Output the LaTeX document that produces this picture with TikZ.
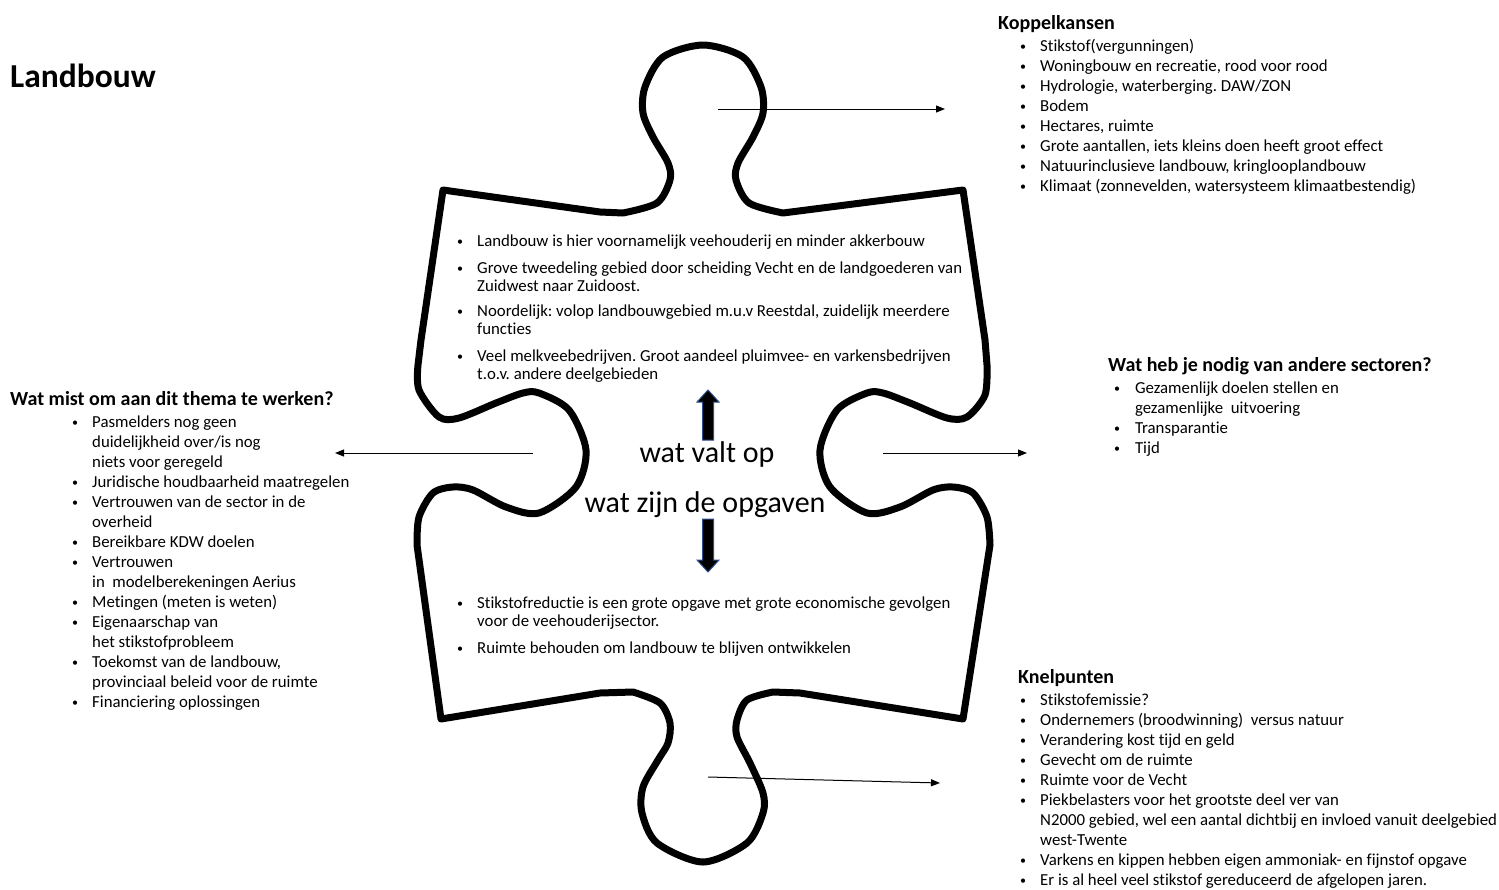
\documentclass[tikz,border=0pt]{standalone}
\usepackage{fontspec}
\setmainfont{Carlito}[Ligatures=NoCommon]
\usetikzlibrary{arrows.meta}
\frenchspacing

\definecolor{arrowblue}{HTML}{2F4F8F}
\newcommand{\bul}[1][20pt]{\makebox[#1][l]{\raisebox{1pt}{\fontsize{12}{12}\selectfont\textbullet}}}
\newcommand{\ind}[1][20pt]{\hspace*{#1}}

\begin{document}
\begin{tikzpicture}[x=1pt,y=-1pt,
    every node/.style={inner sep=0pt},
    txt/.style={anchor=base west,align=left,font=\fontsize{16.8}{20}\selectfont},
    ptxt/.style={anchor=base west,align=left,font=\fontsize{16.8}{18}\selectfont},
    head/.style={anchor=base west,font=\fontsize{20}{22}\selectfont\bfseries},
    link/.style={-{Triangle[length=9pt,width=7pt]},line width=1pt},
    piece/.style={line width=7pt,line join=round},
    block/.style={fill=black,draw=arrowblue,line width=1pt}]
\useasboundingbox (0,0) rectangle (1499,889);

% puzzle piece
\draw[piece] (443,190) -- (600,212)
  -- plot[smooth] coordinates {(623,213) (657,203) (670,180) (668,163) (653,137) (643,113) (645,87) (663,57) (703,45) (743,57) (761,87) (763,113) (753,137) (738,163) (736,180) (749,203) (783,213)}
  -- (963,190) -- (985,340)
  -- plot[smooth] coordinates {(987,365) (985,395) (967,417) (947,418) (910,403) (883,393) (867,393) (837,410) (820,450) (830,487) (867,513) (900,507) (933,490) (953,487) (973,493) (987,517) (990,545)}
  -- (963,719) -- (800,693)
  -- plot[smooth] coordinates {(773,692) (747,700) (737,720) (737,737) (750,763) (763,793) (763,813) (747,843) (703,862) (657,843) (642,813) (643,787) (658,760) (668,743) (670,723) (660,703) (633,692)}
  -- (600,693) -- (441,719) -- (417,545)
  -- plot[smooth] coordinates {(417,545) (419,517) (433,493) (453,487) (473,490) (506,507) (539,513) (576,487) (586,450) (569,410) (539,393) (523,393) (496,403) (459,418) (439,417) (419,390) (418,365)}
  -- (421,340) -- cycle;

\node[anchor=base west,font=\fontsize{33.5}{36}\selectfont\bfseries] (title) at (10,87) {Landbouw};

% text inside the piece (base = last line)
\node[ptxt] (valtop) at (457,379) {\bul Landbouw is hier voornamelijk veehouderij en minder akkerbouw\\[9pt]
  \bul Grove tweedeling gebied door scheiding Vecht en de landgoederen van\\ \ind Zuidwest naar Zuidoost.\\[7pt]
  \bul Noordelijk: volop landbouwgebied m.u.v Reestdal, zuidelijk meerdere\\ \ind functies\\[9pt]
  \bul Veel melkveebedrijven. Groot aandeel pluimvee- en varkensbedrijven\\ \ind t.o.v. andere deelgebieden};
\node[ptxt] (opgaven) at (457,653) {\bul Stikstofreductie is een grote opgave met grote economische gevolgen\\ \ind voor de veehouderijsector.\\[9pt]
  \bul Ruimte behouden om landbouw te blijven ontwikkelen};

\node[anchor=base,font=\fontsize{30}{34}\selectfont] (vraag1) at (707,462) {wat valt op};
\node[anchor=base,font=\fontsize{30}{34}\selectfont] (vraag2) at (705,512) {wat zijn de opgaven};
\coordinate (upTip) at (708,390);
\coordinate (downTip) at (708,572);
\filldraw[block] (upTip) -- ++(11,12) -- ++(-5.5,0) -- ++(0,38) -- ++(-11,0) -- ++(0,-38) -- ++(-5.5,0) -- cycle;
\filldraw[block] (downTip) -- ++(11,-12) -- ++(-5.5,0) -- ++(0,-41) -- ++(-11,0) -- ++(0,41) -- ++(-5.5,0) -- cycle;

% the four corners
\node[head] (koppelHead) at (998,29) {Koppelkansen};
\node[txt] (koppel) at (1020,191) {\bul Stikstof(vergunningen)\\ \bul Woningbouw en recreatie, rood voor rood\\
  \bul Hydrologie, waterberging. DAW/ZON\\ \bul Bodem\\ \bul Hectares, ruimte\\
  \bul Grote aantallen, iets kleins doen heeft groot effect\\ \bul Natuurinclusieve landbouw, kringlooplandbouw\\
  \bul Klimaat (zonnevelden, watersysteem klimaatbestendig)};

\node[head] (nodigHead) at (1108,371) {Wat heb je nodig van andere sectoren?};
\node[txt] (nodig) at (1114,453) {\bul[17pt] Gezamenlijk doelen stellen en\\ \ind[17pt] gezamenlijke\ \ uitvoering\\
  \bul[17pt] Transparantie\\ \bul[17pt] Tijd};

\node[head] (mistHead) at (10,405) {Wat mist om aan dit thema te werken?};
\node[txt] (mist) at (72,707) {\bul Pasmelders nog geen\\ \ind duidelijkheid over/is nog\\ \ind niets voor geregeld\\
  \bul Juridische houdbaarheid maatregelen\\ \bul Vertrouwen van de sector in de\\ \ind overheid\\
  \bul Bereikbare KDW doelen\\ \bul Vertrouwen\\ \ind in\ \ modelberekeningen Aerius\\
  \bul Metingen (meten is weten)\\ \bul Eigenaarschap van\\ \ind het stikstofprobleem\\
  \bul Toekomst van de landbouw,\\ \ind provinciaal beleid voor de ruimte\\ \bul Financiering oplossingen};

\node[head] (knelHead) at (1018,683) {Knelpunten};
\node[txt] (knel) at (1020,885) {\bul Stikstofemissie?\\ \bul Ondernemers (broodwinning)\ \ versus natuur\\
  \bul Verandering kost tijd en geld\\ \bul Gevecht om de ruimte\\ \bul Ruimte voor de Vecht\\
  \bul Piekbelasters voor het grootste deel ver van\\ \ind N2000 gebied, wel een aantal dichtbij en invloed vanuit deelgebied\\
  \ind west-Twente\\ \bul Varkens en kippen hebben eigen ammoniak- en fijnstof opgave\\
  \bul Er is al heel veel stikstof gereduceerd de afgelopen jaren.};

% connectors
\coordinate (topIn) at (718,109);    \coordinate (topOut) at (945,109);
\coordinate (leftIn) at (533,453);   \coordinate (leftOut) at (335,453);
\coordinate (rightIn) at (883,453);  \coordinate (rightOut) at (1027,453);
\coordinate (botIn) at (708,777);    \coordinate (botOut) at (940,783);
\draw[link] (topIn) -- (topOut);
\draw[link] (leftIn) -- (leftOut);
\draw[link] (rightIn) -- (rightOut);
\draw[link] (botIn) -- (botOut);
\end{tikzpicture}
\end{document}
